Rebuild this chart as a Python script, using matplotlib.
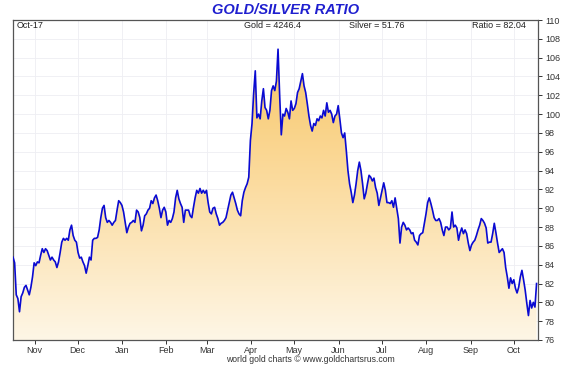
import numpy as np
import pandas as pd
import matplotlib
matplotlib.use("Agg")
import matplotlib.pyplot as plt
import matplotlib.dates as mdates
from matplotlib.colors import LinearSegmentedColormap

# ---------------- data ----------------
start_date = "2024-10-17"
end_date = "2025-10-17"
ratio = [
    84.8, 84.2, 80.8, 80.4, 79.0, 80.6, 81.0, 81.6, 81.8, 81.3,
    80.8, 81.6, 82.7, 84.2, 83.9, 84.3, 84.2, 85.0, 85.7, 85.3,
    85.7, 85.5, 85.0, 84.5, 84.8, 84.5, 84.3, 83.7, 84.3, 85.3,
    86.4, 86.8, 86.6, 86.8, 86.6, 87.7, 88.2, 87.1, 86.6, 86.4,
    85.3, 84.7, 84.8, 84.3, 83.9, 83.1, 83.9, 84.8, 84.5, 86.6,
    86.8, 86.8,
    86.9, 87.7, 89.0, 90.0, 90.3, 89.0, 88.5, 88.7, 88.5, 88.2,
    88.5, 88.7, 89.8, 90.8, 90.6, 90.3, 89.6, 88.5, 87.4, 88.0,
    88.4, 88.5, 88.7, 88.5, 89.8, 89.6, 89.0, 87.6, 88.2, 89.2,
    89.4, 89.8, 90.0, 90.8, 90.5, 91.1, 91.4, 90.8, 90.0, 89.0,
    89.8, 90.1, 89.6, 88.2, 88.7, 88.5, 88.9, 89.6, 91.1, 91.9,
    91.0, 90.5, 90.1, 88.5, 89.8,
    89.8, 89.8, 89.2, 89.0, 90.1, 91.1, 91.9, 91.6, 92.1, 91.6,
    91.9, 91.6, 91.9, 90.6, 89.6, 89.4, 90.0, 90.1, 89.4, 88.9,
    88.2, 88.4, 88.5, 88.7, 89.0, 89.8, 90.6, 91.4, 91.7, 91.1,
    90.5, 89.8, 89.4, 89.2, 90.8, 91.7, 92.2, 92.6, 93.3, 97.2,
    99.0, 102.2, 104.6, 99.6, 100.0, 99.5, 101.4, 102.7, 100.7, 100.4,
    99.5, 100.4, 102.5, 103.0, 102.5, 103.5, 106.9, 102.0, 97.8, 100.0,
    99.8, 100.6, 100.2, 99.5, 101.4, 100.4, 100.6, 101.1, 102.3, 102.7,
    103.5, 104.3, 103.0, 102.3, 101.1, 99.8, 98.8, 98.2, 99.0, 98.8,
    99.5, 99.3, 99.8, 99.6, 100.4, 99.8, 101.2, 100.2, 100.4, 100.0,
    99.1, 99.8, 100.0, 100.9, 99.5, 98.0, 97.5, 98.0, 96.1, 94.0,
    92.6, 91.7, 90.6, 91.4, 92.6, 94.0, 94.9, 94.0, 92.6, 91.0,
    91.6, 92.6, 93.5, 93.3, 92.9, 93.2, 92.2, 91.6,
    90.3, 91.1, 91.9, 92.7, 91.9, 90.6, 90.6, 90.5, 90.8, 90.1,
    91.1, 90.0, 88.9, 86.3, 88.0, 88.5, 88.2, 87.7, 87.9, 87.7,
    87.3, 87.4, 86.6, 86.4, 86.1, 87.1, 87.3, 87.4, 88.4, 89.4,
    90.6, 91.1, 90.5, 89.8, 89.0, 88.7, 88.7, 88.9, 88.5, 87.7,
    87.1, 88.0, 88.0, 87.7, 87.9, 89.6, 88.0, 88.2,
    87.9, 86.6, 87.4, 87.9, 87.3, 87.7, 87.3, 86.3, 85.5, 86.1,
    86.4, 86.6, 87.1, 87.7, 88.2, 88.9, 88.7, 88.4, 87.9, 86.3,
    86.4, 86.4, 87.3, 88.4, 87.4, 86.3, 85.3, 85.5, 85.7, 85.3,
    83.7, 82.7, 81.5, 82.6, 82.0, 82.4, 81.5, 81.0, 81.6, 82.7,
    83.4, 82.4, 81.3, 79.9, 78.6, 80.2, 79.4, 80.0, 79.5, 82.0,
]
title = "GOLD/SILVER RATIO"
date_label = "Oct-17"
gold_label = "Gold = 4246.4"
silver_label = "Silver = 51.76"
ratio_label = "Ratio = 82.04"
footer = "world gold charts \u00a9 www.goldchartsrus.com"
y_ticks = list(range(76, 111, 2))

# ---------------- figure ----------------
plt.rcParams['font.family'] = ['Liberation Sans', 'DejaVu Sans']
dates = pd.date_range(start_date, end_date, periods=len(ratio))
xnum = mdates.date2num(dates)

fig = plt.figure(figsize=(5.63, 3.67), dpi=100)
ax = fig.add_axes([13/563, 1-340/367, (538-13)/563, (340-20)/367])

ymin, ymax = 76, 110
xmin = mdates.date2num(pd.Timestamp(start_date))
xmax = mdates.date2num(pd.Timestamp("2025-10-18"))

# gradient fill under the line
cmap = LinearSegmentedColormap.from_list("gs", ["#fef6e6", "#fbdb9e", "#f7c25c"])
grad = np.linspace(0, 1, 256).reshape(-1, 1)
im = ax.imshow(grad, cmap=cmap, aspect="auto", origin="lower",
               extent=[xmin, xmax, ymin, ymax], zorder=1)
poly = ax.fill_between(xnum, ymin, ratio, color="none", lw=0)
im.set_clip_path(poly.get_paths()[0], transform=ax.transData)

ax.plot(xnum, ratio, color="#0a0ad2", lw=1.2, zorder=3)

ax.set_xlim(xmin, xmax)
ax.set_ylim(ymin, ymax)

ax.xaxis.set_major_locator(mdates.MonthLocator())
ax.xaxis.set_major_formatter(mdates.DateFormatter("%b"))
ax.yaxis.tick_right()
ax.set_yticks(y_ticks)
ax.tick_params(axis="x", labelsize=6.5, colors="#333333", length=3, width=0.7, pad=1)
ax.tick_params(axis="y", labelsize=6.5, colors="#333333", length=3, width=0.7, pad=2)
ax.grid(True, color="#eeeef3", lw=0.6, zorder=0)
ax.set_axisbelow(True)
for s in ax.spines.values():
    s.set_color("#555555")
    s.set_linewidth(0.9)

ax.text(0.006, 0.983, date_label, transform=ax.transAxes, fontsize=6.5,
        ha="left", va="center", color="#222222", zorder=5)
ax.text(0.44, 0.983, gold_label, transform=ax.transAxes, fontsize=6.5,
        ha="left", va="center", color="#222222", zorder=5)
ax.text(0.64, 0.983, silver_label, transform=ax.transAxes, fontsize=6.5,
        ha="left", va="center", color="#222222", zorder=5)
ax.text(0.976, 0.983, ratio_label, transform=ax.transAxes, fontsize=6.5,
        ha="right", va="center", color="#222222", zorder=5)

fig.text(0.507, 1-10/367, title, fontsize=10.5, fontweight="bold",
         fontstyle="italic", color="#1f1fcf", ha="center", va="center")
fig.text(0.551, 1-360/367, footer, fontsize=6.2, color="#333333",
         ha="center", va="center")

fig.savefig("out.png", dpi=100)
